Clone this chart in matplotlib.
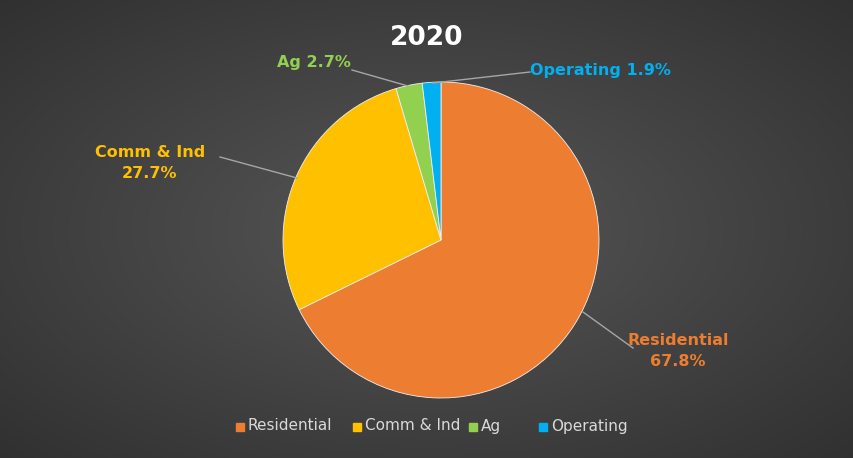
import numpy as np
import matplotlib
matplotlib.use("Agg")
import matplotlib.pyplot as plt
from matplotlib.lines import Line2D
from matplotlib.patches import Rectangle

categories = ["Residential", "Comm & Ind", "Ag", "Operating"]
values = [67.8, 27.7, 2.7, 1.9]
colors = ["#ED7D31", "#FFC000", "#92D050", "#00B0F0"]
title = "2020"

W, H = 854, 458
fig = plt.figure(figsize=(W/100, H/100), dpi=100)

# background radial gradient
bg = fig.add_axes([0, 0, 1, 1])
yy, xx = np.mgrid[0:H, 0:W]
d = np.sqrt(((xx - W/2)/(W/2))**2 + ((yy - H/2)/(H/2))**2) / np.sqrt(2)
g = 0.34 - 0.15 * d
bg.imshow(np.dstack([g, g, g]), extent=[0, W, H, 0], aspect="auto")
bg.set_xlim(0, W); bg.set_ylim(H, 0); bg.axis("off")

cx, cy, r = 441, 240, 158
ax = fig.add_axes([(cx - r)/W, 1 - (cy + r)/H, 2*r/W, 2*r/H])
ax.pie(values, colors=colors, startangle=90, counterclock=False, radius=1,
       wedgeprops=dict(edgecolor="#f0f0f0", linewidth=0.6))
ax.set_aspect("auto")
ax.set_xlim(-1, 1); ax.set_ylim(-1, 1)
ax.axis("off")

def px(x, y):
    return x / W, 1 - y / H

lc = "#a6a6a6"
for (x0, y0), (x1, y1) in [((583, 312), (633, 348)), ((297, 178), (220, 157)),
                           ((408, 86), (352, 70)), ((433, 83), (530, 72))]:
    a, b = px(x0, y0); c, d2 = px(x1, y1)
    fig.add_artist(Line2D([a, c], [b, d2], color=lc, lw=1))

def lab(x, y, s, col, ha="center"):
    fig.text(*px(x, y), s, color=col, fontsize=11.5, fontweight="bold",
             ha=ha, va="center", linespacing=1.5)

lab(678, 351, "Residential\n67.8%", colors[0])
lab(150, 163, "Comm & Ind\n27.7%", colors[1])
lab(314, 62, "Ag 2.7%", colors[2])
lab(600, 70, "Operating 1.9%", colors[3])

fig.text(*px(427, 38), title, color="white", fontsize=19, fontweight="bold",
         ha="center", va="center")

# legend
xs = [236, 353, 469, 539]
for x, c, s in zip(xs, colors, categories):
    a, b = px(x, 431)
    fig.add_artist(Rectangle((a, b), 8/W, 8/H, color=c, transform=fig.transFigure))
    fig.text(*px(x + 12, 426), s, color="#d9d9d9", fontsize=11, ha="left", va="center")

fig.savefig("out.png", dpi=100)
